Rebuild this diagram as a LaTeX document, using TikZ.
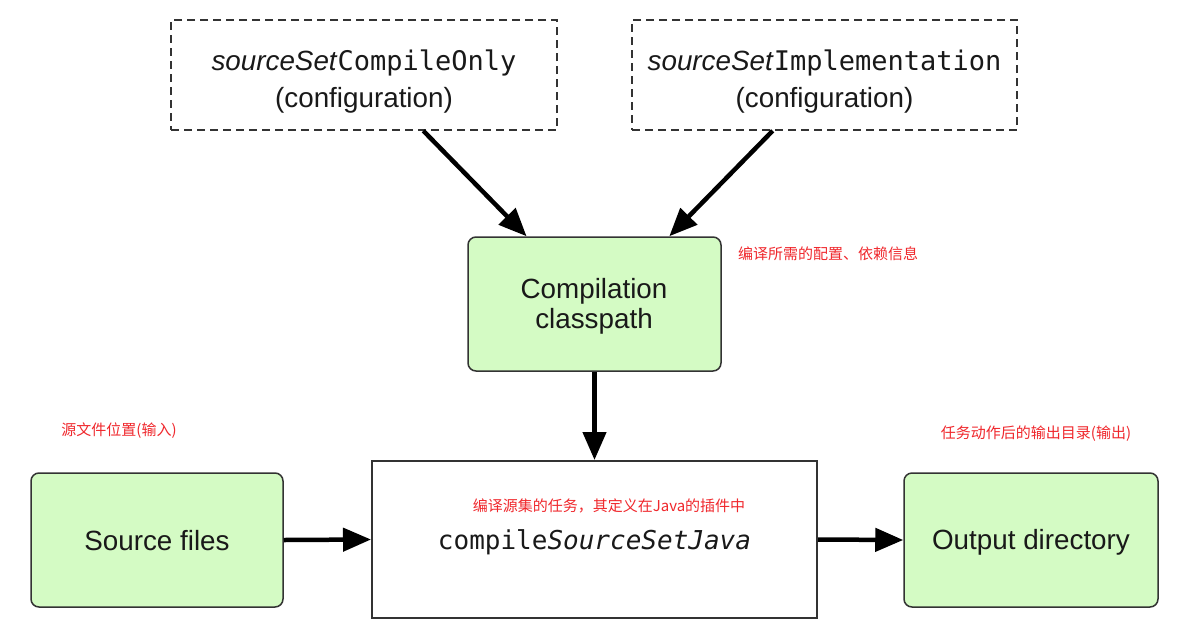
\documentclass[tikz,border=0pt]{standalone}
\usepackage{fontspec}
\setmainfont{Liberation Sans}
\newfontfamily\monof{DejaVu Sans Mono}[ItalicFont={DejaVu Sans Mono Oblique}]
\newfontfamily\cjk{Noto Sans CJK SC}
\usetikzlibrary{arrows.meta,calc}
\definecolor{boxgreen}{RGB}{212,251,196}
\definecolor{edgegray}{RGB}{51,51,51}
\definecolor{notered}{RGB}{240,40,45}
\tikzset{
  dashbox/.style={draw=edgegray, line width=1.5pt, dash pattern=on 8pt off 5pt, inner sep=0pt},
  greenbox/.style={draw=edgegray, line width=1.5pt, fill=boxgreen, rounded corners=8pt, inner sep=0pt},
  taskbox/.style={draw=edgegray, line width=2pt, fill=white, inner sep=0pt},
  lbl/.style={font=\fontsize{27.8}{32}\selectfont, text=black!90, inner sep=0pt, anchor=base},
  note/.style={font=\cjk\fontsize{15}{18}\selectfont, text=notered, inner sep=0pt},
  flow/.style={line width=4.5pt, -{Triangle[length=28pt,width=23pt]}},
}
\begin{document}
\begin{tikzpicture}[x=1pt,y=-1pt]
\useasboundingbox[fill=white] (0,0) rectangle (1184,625);

% boxes
\node[dashbox, minimum width=386pt, minimum height=110pt] (co) at (364,75) {};
\node[dashbox, minimum width=385pt, minimum height=110pt] (im) at (824.5,75) {};
\node[greenbox, minimum width=253pt, minimum height=134pt] (cp) at (594.5,304) {};
\node[taskbox, minimum width=445pt, minimum height=157pt] (task) at (594.5,539.5) {};
\node[greenbox, minimum width=252pt, minimum height=134pt] (src) at (157,540) {};
\node[greenbox, minimum width=254pt, minimum height=134pt] (out) at (1031,540) {};

% labels
\node[lbl] (coA) at (364,70) {\textit{sourceSet}{\monof\fontsize{27}{32}\selectfont CompileOnly}};
\node[lbl] (coB) at (364,107) {(configuration)};
\node[lbl] (imA) at (824.5,70) {\textit{sourceSet}{\monof\fontsize{27}{32}\selectfont Implementation}};
\node[lbl] (imB) at (824.5,107) {(configuration)};
\node[lbl] (cpA) at (594,298) {Compilation};
\node[lbl] (cpB) at (594,328) {classpath};
\node[lbl] (taskT) at (594.5,549) {\monof\fontsize{26}{30}\selectfont compile\textit{SourceSetJava}};
\node[lbl] (srcT) at (157,550) {Source files};
\node[lbl] (outT) at (1031,549) {Output directory};

% notes
\node[note] (n1) at (828,254) {编译所需的配置、依赖信息};
\node[note] (n2) at (119,431) {源文件位置(输入)};
\node[note] (n3) at (1036,434) {任务动作后的输出目录(输出)};
\node[note] (n4) at (609,506) {编译源集的任务，其定义在Java的插件中};

% connectors
\draw[flow] ($(co.south west)!0.653!(co.south east)$) -- ($(cp.north west)!0.233!(cp.north east)$);
\draw[flow] ($(im.south west)!0.366!(im.south east)$) -- ($(cp.north west)!0.794!(cp.north east)$);
\draw[flow] (cp.south) -- (task.north);
\draw[flow] (src.east) -- (task.west);
\draw[flow] (task.east) -- (out.west);
\end{tikzpicture}
\end{document}
